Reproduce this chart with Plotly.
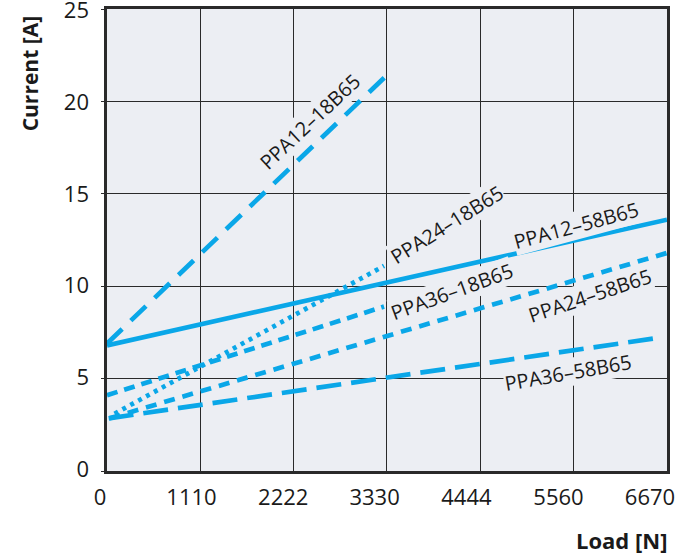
import plotly.graph_objects as go

# ---- data ----
series_names = ["PPA12–18B65", "PPA12–58B65", "PPA24–18B65",
                "PPA36–18B65", "PPA24–58B65", "PPA36–58B65"]
x_12_18 = [0, 3330]
y_12_18 = [6.9, 21.4]
x_12_58 = [0, 6670]
y_12_58 = [6.8, 13.6]
x_24_18 = [90, 3300]
y_24_18 = [3.1, 11.1]
x_36_18 = [0, 3300]
y_36_18 = [4.1, 8.9]
x_24_58 = [30, 6670]
y_24_58 = [2.85, 11.8]
x_36_58 = [20, 6560]
y_36_58 = [2.85, 7.2]

x_ticks = [0, 1110, 2222, 3330, 4444, 5560, 6670]
y_ticks = [0, 5, 10, 15, 20, 25]

# label positions (data coords) and angles
label_x = [2418, 5586, 4050, 4109, 5753, 5491]
label_y = [18.9, 13.3, 13.32, 9.70, 9.48, 5.31]
label_angle = [-43, -15, -32, -20, -18.5, -10]

BLUE = "#0AA7E8"
BG = "#ECEEF3"
FONT = "Open Sans"
INK = "#1a1a1a"

xs = [x_12_18, x_12_58, x_24_18, x_36_18, x_24_58, x_36_58]
ys = [y_12_18, y_12_58, y_24_18, y_36_18, y_24_58, y_36_58]
dashes = ["21px,12px", "solid", "4px,5px", "11px,7px", "11px,8px", "25px,10px"]

fig = go.Figure()
for name, x, y, d in zip(series_names, xs, ys, dashes):
    fig.add_trace(go.Scatter(x=x, y=y, mode="lines", name=name,
                             line=dict(color=BLUE, width=4.7, dash=d),
                             showlegend=False, hoverinfo="skip"))

for name, lx, ly, ang in zip(series_names, label_x, label_y, label_angle):
    fig.add_annotation(x=lx, y=ly, xref="x", yref="y", text=name,
                       showarrow=False, textangle=ang,
                       font=dict(family=FONT, size=20, color=INK),
                       bgcolor=BG, borderpad=0)

fig.add_annotation(xref="paper", yref="paper", x=-0.137, y=0.988,
                   xanchor="center", yanchor="top", text="<b>Current [A]</b>",
                   textangle=-90, showarrow=False,
                   font=dict(family=FONT, size=21, color=INK))
fig.add_annotation(xref="paper", yref="paper", x=1.003, y=-0.112,
                   xanchor="right", yanchor="top", text="<b>Load [N]</b>",
                   showarrow=False,
                   font=dict(family=FONT, size=22, color=INK))

fig.update_layout(
    width=687, height=558,
    margin=dict(l=107, r=20, t=9, b=87, autoexpand=False),
    plot_bgcolor=BG, paper_bgcolor="white",
    font=dict(family=FONT, size=22, color=INK),
    xaxis=dict(range=[0, 6670], tickvals=x_ticks, showticklabels=False,
               showgrid=True, gridcolor="#2a2a2a", gridwidth=1.2,
               showline=True, linecolor="#2a2a2a", linewidth=2.5, mirror=True,
               ticks="", zeroline=False, automargin=False),
    # label-only axes: the reference prints its tick labels slightly off the grid lines
    xaxis2=dict(overlaying="x", anchor="y", side="bottom",
                range=[0, 6670 * 560 / 550], tickvals=x_ticks,
                ticktext=[str(v) for v in x_ticks],
                showgrid=False, showline=False, zeroline=False, ticks="",
                ticklabelstandoff=11, ticklabelshift=-7,
                ticklabeloverflow="allow", automargin=False),
    yaxis=dict(range=[0, 25], tickvals=y_ticks, showticklabels=False,
               showgrid=True, gridcolor="#2a2a2a", gridwidth=1.2,
               showline=True, linecolor="#2a2a2a", linewidth=2.5, mirror=True,
               ticks="outside", ticklen=3, tickcolor="#2a2a2a",
               zeroline=False, automargin=False),
    yaxis2=dict(overlaying="y", anchor="x", side="left",
                range=[0, 25 * 462 / 458.5], tickvals=y_ticks,
                showgrid=False, showline=False, zeroline=False, ticks="",
                ticklabelstandoff=17, ticklabelshift=-2,
                ticklabeloverflow="allow", automargin=False),
)
# invisible helper so the label axes are drawn
fig.add_trace(go.Scatter(x=x_ticks, y=[0] * len(x_ticks), xaxis="x2", yaxis="y2",
                         mode="lines", line=dict(width=0), opacity=0,
                         showlegend=False, hoverinfo="skip"))

fig.write_html("out.html",
               config={"displayModeBar": False},
               post_script="document.body.style.margin='0';document.body.style.overflow='hidden';")
